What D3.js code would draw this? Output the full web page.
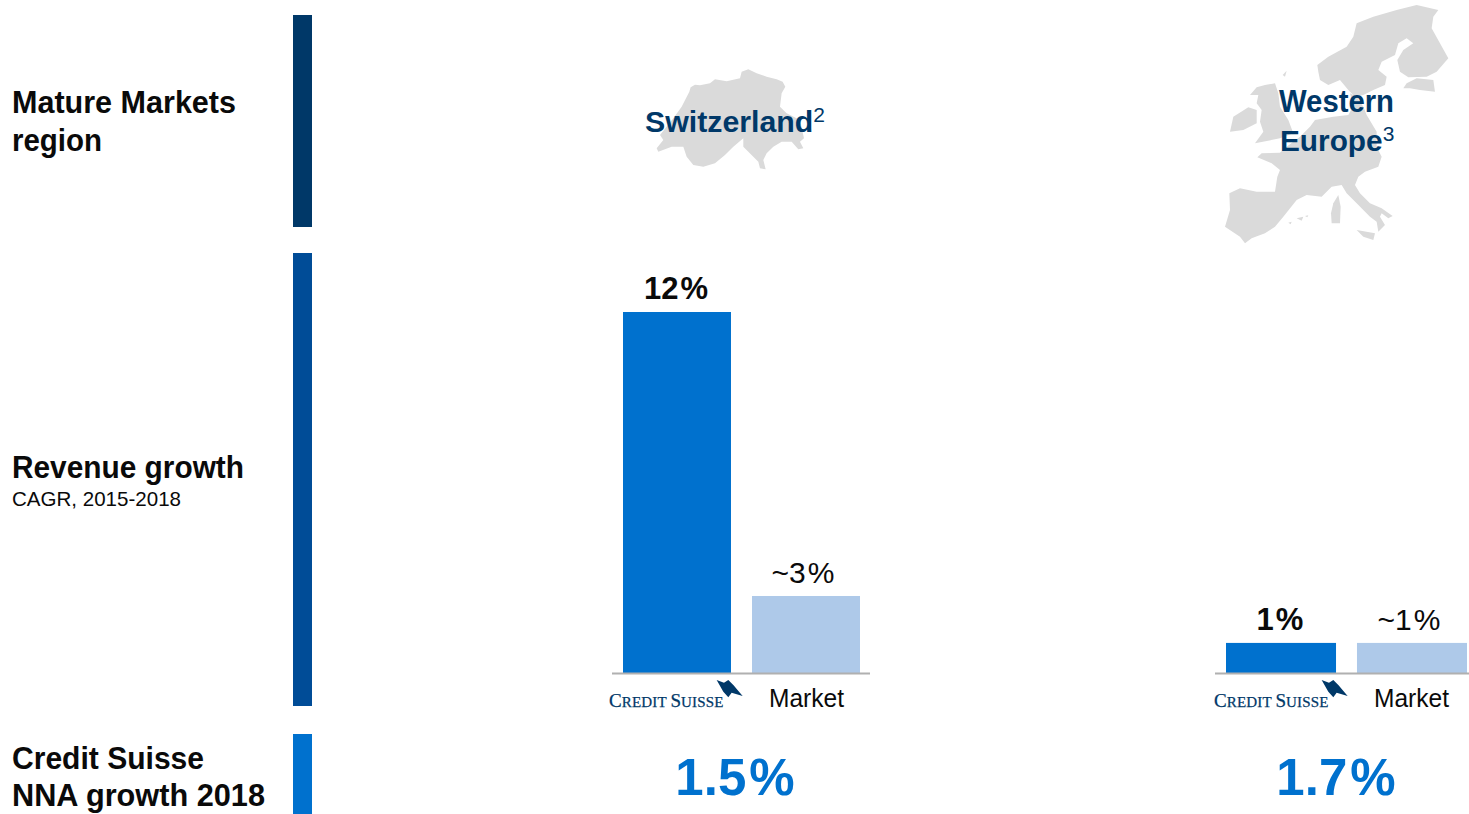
<!DOCTYPE html>
<html><head><meta charset="utf-8">
<script src="https://cdnjs.cloudflare.com/ajax/libs/d3/7.8.5/d3.min.js"></script>
<style>html,body{margin:0;padding:0;background:#fff}svg{display:block}text{font-family:"Liberation Sans",Arial,sans-serif}</style>
</head><body><svg id="c" width="1469" height="814"></svg>
<script>
const categories=["Credit Suisse","Market"];
const switzerlandValues=[12,2.56];
const westernEuropeValues=[1,1];
const switzerlandLabels=["12","~3"];
const westernEuropeLabels=["1","~1"];
const nnaLabels=["1.5","1.7"];
const colors={dark:"#003868",mid:"#004C97",blue:"#0071CE",light:"#AEC9E9",grey:"#DADADA",axis:"#B0B0B0",ink:"#0A0A0A"};

const swissShape=[[268,125],[272,112],[285,104],[300,106],[330,100],[345,88],[380,94],[420,85],[425,65],[445,58],[470,70],[500,80],[530,88],[548,95],[556,110],[545,130],[540,170],[560,190],[600,210],[612,265],[600,275],[610,295],[595,298],[575,275],[545,275],[520,290],[500,310],[490,330],[497,358],[480,355],[475,335],[445,305],[430,290],[430,265],[400,290],[375,315],[345,340],[310,350],[280,345],[260,320],[250,290],[215,290],[175,305],[170,295],[190,270],[180,255],[220,205],[245,170]];
const europeShapes=[
[[88,580],[120,565],[170,575],[225,575],[232,530],[240,510],[215,490],[172,472],[185,460],[240,458],[260,440],[300,410],[330,380],[345,360],[400,350],[445,345],[460,318],[450,280],[470,290],[490,320],[500,345],[530,395],[530,440],[545,470],[535,500],[495,515],[475,530],[465,555],[480,580],[510,610],[545,625],[578,648],[565,655],[545,640],[540,650],[555,675],[535,695],[530,665],[510,650],[470,610],[440,580],[425,555],[395,560],[365,590],[320,585],[290,600],[250,650],[225,680],[195,700],[155,715],[135,730],[120,710],[75,680],[90,630]],
[[355,215],[352,195],[385,170],[440,140],[460,110],[470,70],[520,50],[590,30],[650,15],[715,30],[700,50],[695,85],[720,130],[745,175],[710,215],[680,230],[625,232],[600,215],[592,180],[610,150],[640,130],[620,115],[595,130],[585,165],[545,185],[535,210],[560,230],[555,255],[520,270],[490,285],[465,290],[445,270],[420,240],[385,255],[360,240]],
[[610,265],[620,250],[650,235],[700,240],[705,275],[660,270],[630,265]],
[[150,285],[170,262],[195,255],[225,250],[235,280],[240,320],[265,360],[280,400],[240,415],[165,430],[190,395],[180,365],[185,330],[170,310],[175,285]],
[[90,395],[100,350],[145,322],[170,330],[170,370],[130,390]],
[[400,610],[415,585],[422,620],[420,670],[395,670],[393,640]],
[[470,690],[525,700],[520,720],[490,710]],
[[290,655],[310,650],[305,662]],
[[265,668],[275,665],[272,673]],
[[315,648],[325,646],[322,652]],
[[248,225],[260,212],[255,230]]
];
const sail=[[350,60],[372,68],[385,60],[400,75],[428,108],[395,98],[385,112],[370,95]];

const svg=d3.select("#c");
const y=d3.scaleLinear().domain([0,12]).range([673,312]);
const line=d3.line().curve(d3.curveLinearClosed);

function txt(x,yy,s,size,weight,fill,anchor,len){
  const t=svg.append("text").attr("x",x).attr("y",yy).attr("font-size",size).attr("font-weight",weight).attr("fill",fill).attr("text-anchor",anchor||"start").text(s);
  if(len)t.attr("textLength",len).attr("lengthAdjust","spacingAndGlyphs");
  return t;
}
function pct(x,yy,s,size,weight,fill,gap){
  const t=svg.append("text").attr("x",x).attr("y",yy).attr("font-size",size).attr("font-weight",weight).attr("fill",fill).attr("text-anchor","middle");
  t.append("tspan").text(s);
  t.append("tspan").attr("dx",gap).text("%");
}
function sup(x,yy,s,n,size){
  const t=svg.append("text").attr("x",x).attr("y",yy).attr("font-size",size).attr("font-weight",700).attr("fill",colors.dark);
  t.append("tspan").text(s);
  t.append("tspan").attr("font-size",21).attr("font-weight",400).attr("dy",-10).text(n);
}
[[15,227,colors.dark],[253,706,colors.mid],[734,814,colors.blue]].forEach(([a,b,c])=>svg.append("rect").attr("x",293).attr("y",a).attr("width",19).attr("height",b-a).attr("fill",c));
txt(12,113,"Mature Markets",31,700,colors.ink,"start",224);
txt(12,151,"region",31,700,colors.ink,"start",90);
txt(12,478,"Revenue growth",31,700,colors.ink,"start",232);
txt(12,506,"CAGR, 2015-2018",21,400,colors.ink,"start",169);
txt(12,769,"Credit Suisse",31,700,colors.ink,"start",192);
txt(12,806,"NNA growth 2018",31,700,colors.ink,"start",253);

svg.append("g").attr("transform","translate(600,50) scale(0.3333)").append("path").attr("d",line(swissShape)).attr("fill",colors.grey);
svg.append("g").attr("transform","translate(1200,0) scale(0.3333)").selectAll("path").data(europeShapes).join("path").attr("d",d=>line(d)).attr("fill",colors.grey);

sup(645,132,"Switzerland","2",30.3);
txt(1279,112,"Western",31,700,colors.dark,"start",115);
sup(1280,151,"Europe","3",29.8);

function logo(x0){
  const g=svg.append("g");
  const t=g.append("text").attr("x",x0).attr("y",707).attr("fill",colors.dark).attr("stroke",colors.dark).attr("stroke-width",0.25).attr("letter-spacing",0.15).style("font-family","'Liberation Serif',serif");
  [["C",19],["REDIT ",15],["S",19],["UISSE",15]].forEach(([s,z])=>t.append("tspan").attr("font-size",z).text(s));
  g.append("path").attr("transform",`translate(${x0-9},660) scale(0.3333)`).attr("d",line(sail)).attr("fill",colors.dark);
}
function panel(x0,x1,axisL,axisR,values,labels,inner,logoX,marketX,nna,nnaX){
  const x=d3.scaleBand().domain(categories).range([x0,x1]).paddingInner(inner);
  svg.append("g").selectAll("rect").data(values).join("rect")
    .attr("x",(d,i)=>x(categories[i])).attr("width",x.bandwidth())
    .attr("y",d=>y(d)).attr("height",d=>y(0)-y(d))
    .attr("fill",(d,i)=>i?colors.light:colors.blue);
  svg.append("line").attr("x1",axisL).attr("x2",axisR).attr("y1",673.5).attr("y2",673.5).attr("stroke",colors.axis).attr("stroke-width",2);
  values.forEach((d,i)=>{
    pct(x(categories[i])+x.bandwidth()/2-(i?3:1),y(d)-13,labels[i],i?30:31,i?400:700,colors.ink,2);
  });
  logo(logoX);
  txt(marketX,707,"Market",26,400,colors.ink,"start",75);
  pct(nnaX,795,nna,51,700,colors.blue,3);
}
panel(623,860,612,870,switzerlandValues,switzerlandLabels,0.163,609,769,nnaLabels[0],735);
panel(1226,1467,1215,1469,westernEuropeValues,westernEuropeLabels,0.16,1214,1374,nnaLabels[1],1336);
</script></body></html>
